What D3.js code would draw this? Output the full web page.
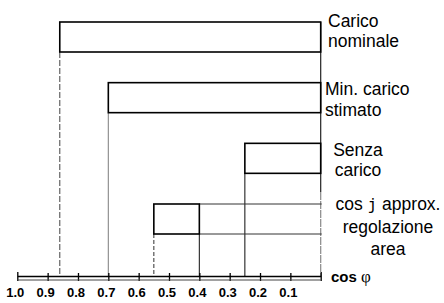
<!DOCTYPE html>
<html>
<head>
<meta charset="utf-8">
<script src="https://cdnjs.cloudflare.com/ajax/libs/d3/7.8.5/d3.min.js"></script>
<style>
  body { margin: 0; background: #fff; }
  svg { display: block; font-family: "Liberation Sans", Arial, sans-serif; }
  .box { fill: none; stroke: #000; stroke-width: 1.6; }
  .label { font-size: 17.5px; fill: #000; }
</style>
</head>
<body>
<svg width="444" height="303"></svg>
<script>
// cos phi ranges, one row per condition
var rows = ["nominale", "minimo", "vuoto", "regolazione"];
var rangeFrom = [0.86, 0.70, 0.25, 0.55];
var rangeTo = [0.0, 0.0, 0.0, 0.40];
var rowLabels = [
  ["Carico", "nominale"],
  ["Min. carico", "stimato"],
  ["Senza", "carico"],
  ["cos j approx.", "regolazione", "area"]
];
var tickValues = [1.0, 0.9, 0.8, 0.7, 0.6, 0.5, 0.4, 0.3, 0.2, 0.1, 0.0];

var svg = d3.select("svg");

var x = d3.scaleLinear().domain([1, 0]).range([17.3, 320.7]);
var y = d3.scaleLinear().domain([0, rows.length - 1]).range([22, 204]);
var boxH = 30;
var axisY = 276;

var data = rows.map(function(r, i) {
  return {row: r, i: i, from: rangeFrom[i], to: rangeTo[i], text: rowLabels[i]};
});

// vertical guide lines from each box down to the axis
svg.append("line")
  .attr("x1", x(0)).attr("x2", x(0))
  .attr("y1", y(0)).attr("y2", y(3) - 12)
  .attr("stroke", "#222").attr("stroke-width", 1.2);
svg.append("line")
  .attr("x1", x(0)).attr("x2", x(0))
  .attr("y1", y(3) - 12).attr("y2", axisY)
  .attr("stroke", "#888").attr("stroke-width", 1.2)
  .attr("stroke-dasharray", "8,1");

var guides = [
  {v: rangeFrom[0], y0: y(0) + boxH, color: "#555", dash: "6,2"},
  {v: rangeFrom[1], y0: y(1) + boxH, color: "#888", dash: null},
  {v: rangeFrom[2], y0: y(2) + boxH, color: "#222", dash: null},
  {v: rangeFrom[3], y0: y(3) + boxH, color: "#444", dash: "4,2"},
  {v: rangeTo[3], y0: y(3) + boxH, color: "#222", dash: null}
];
svg.selectAll(".guide")
  .data(guides)
  .enter().append("line")
  .attr("class", "guide")
  .attr("x1", d => x(d.v)).attr("x2", d => x(d.v))
  .attr("y1", d => d.y0).attr("y2", axisY)
  .attr("stroke", d => d.color)
  .attr("stroke-width", 1.1)
  .attr("stroke-dasharray", d => d.dash);

// extension lines of the regulation box toward cos = 0
var reg = data[3];
svg.selectAll(".ext")
  .data([y(3), y(3) + boxH])
  .enter().append("line")
  .attr("class", "ext")
  .attr("x1", x(reg.to)).attr("x2", x(0) + 1)
  .attr("y1", d => d).attr("y2", d => d)
  .attr("stroke", "#333").attr("stroke-width", 1);

// boxes
svg.selectAll(".box")
  .data(data)
  .enter().append("rect")
  .attr("class", "box")
  .attr("x", d => x(d.from))
  .attr("y", d => y(d.i))
  .attr("width", d => x(d.to) - x(d.from))
  .attr("height", boxH);

// labels on the right
var labelPos = [
  {x: 328, anchor: "start", base: 27},
  {x: 325, anchor: "start", base: 95},
  {x: 358, anchor: "middle", base: 156},
  {x: 388, anchor: "middle", base: 210}
];
var lineGap = [20, 21, 19.5, 22.5];

data.forEach(function(d) {
  var p = labelPos[d.i];
  var t = svg.append("text")
    .attr("class", "label")
    .attr("text-anchor", p.anchor);
  d.text.forEach(function(line, k) {
    var ts = t.append("tspan")
      .attr("x", p.x)
      .attr("y", p.base + k * lineGap[d.i]);
    if (line.indexOf("cos j") === 0) {
      ts.append("tspan").text("cos ");
      ts.append("tspan").attr("font-family", "DejaVu Sans Mono, monospace").attr("font-size", "16px").text("j");
      ts.append("tspan").text(" approx.");
    } else {
      ts.text(line);
    }
  });
});

// axis
var axis = d3.axisBottom(x)
  .tickValues(tickValues)
  .tickSizeOuter(0)
  .tickFormat(v => v === 0 ? "" : d3.format(".1f")(v));

var gAxis = svg.append("g")
  .attr("transform", "translate(0," + axisY + ")")
  .call(axis)
  .attr("font-size", 13)
  .attr("font-family", "Liberation Sans, Arial, sans-serif");
gAxis.select(".domain").attr("stroke", "#000").attr("stroke-width", 1.4);
gAxis.selectAll(".tick line")
  .attr("y1", d => (d === 1 || d === 0) ? -4 : -3)
  .attr("y2", 5)
  .attr("stroke", "#000")
  .attr("stroke-width", 1.3);
gAxis.selectAll(".tick text")
  .attr("y", 21)
  .attr("dy", 0)
  .attr("dx", -2.5)
  .attr("fill", "#000")
  .style("font-size", "13px")
  .style("font-weight", "bold");

// lower rule of the double axis line
svg.append("line")
  .attr("x1", x(1)).attr("x2", x(0))
  .attr("y1", axisY + 4).attr("y2", axisY + 4)
  .attr("stroke", "#444").attr("stroke-width", 1);

// axis title
var title = svg.append("text")
  .attr("x", 331)
  .attr("y", 282);
title.append("tspan")
  .attr("font-weight", "bold").attr("font-size", "15px")
  .text("cos ");
title.append("tspan")
  .attr("font-family", "Liberation Serif, serif").attr("font-size", "17px")
  .text("φ");
</script>
</body>
</html>
